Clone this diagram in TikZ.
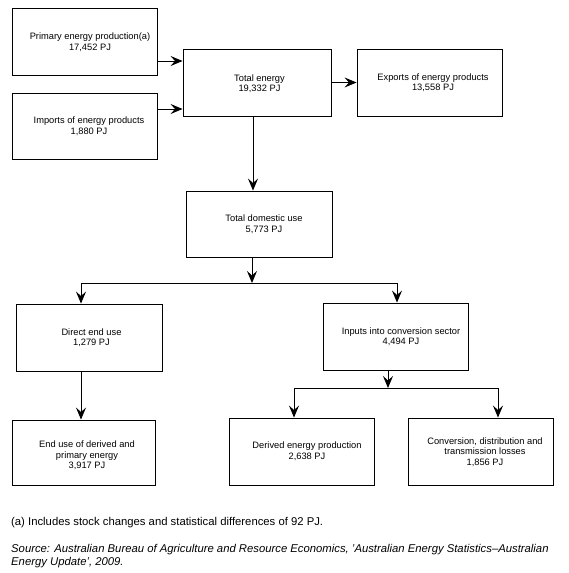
\documentclass[tikz,border=0pt]{standalone}
\usepackage{fontspec}
\setmainfont{Liberation Sans}
\usetikzlibrary{arrows.meta}
\begin{document}
\begin{tikzpicture}[x=1pt,y=-1pt,
  box/.style 2 args={draw, line width=0.9pt, minimum width=#1pt, minimum height=#2pt, inner sep=0pt},
  lbl/.style={font=\fontsize{9.3}{10.5}\selectfont, align=center, inner sep=0pt},
  conn/.style={line width=0.9pt},
  arr/.style={line width=0.9pt, -{Stealth[length=12pt, width=10pt, inset=4.5pt]}},
  note/.style={font=\fontsize{11.3}{13}\selectfont, anchor=base west, inner sep=0pt}]
\useasboundingbox (0,0) rectangle (569,573);
\fill[white] (0,0) rectangle (569,573);

% boxes
\node[box={145}{67}] (primary) at (84.5,41.5) {};
\node[box={145}{66}] (imports) at (84.5,126) {};
\node[box={148.5}{67}] (total) at (257.25,82.5) {};
\node[box={145}{67}] (exports) at (429.5,82.5) {};
\node[box={146}{66}] (domestic) at (259,224) {};
\node[box={146}{67}] (direct) at (89,337.5) {};
\node[box={143}{65}] (enduse) at (83.5,452.5) {};
\node[box={145}{67}] (inputs) at (395.5,336.5) {};
\node[box={145}{67}] (derived) at (301.5,451.5) {};
\node[box={145}{67}] (conversion) at (480.5,451.5) {};

% labels
\node[lbl] (primaryT) at (90,42) {Primary energy production(a)\\17,452 PJ};
\node[lbl] (importsT) at (89,126) {Imports of energy products\\1,880 PJ};
\node[lbl] (totalT) at (259.5,83.5) {Total energy\\19,332 PJ};
\node[lbl] (exportsT) at (433,82.5) {Exports of energy products\\13,558 PJ};
\node[lbl] (domesticT) at (264,224) {Total domestic use\\5,773 PJ};
\node[lbl] (directT) at (91.5,337.5) {Direct end use\\1,279 PJ};
\node[lbl] (enduseT) at (87,455.5) {End use of derived and\\primary energy\\3,917 PJ};
\node[lbl] (inputsT) at (401,336.5) {Inputs into conversion sector\\4,494 PJ};
\node[lbl] (derivedT) at (307,451) {Derived energy production\\2,638 PJ};
\node[lbl] (conversionT) at (485,452) {Conversion, distribution and\\transmission losses\\1,856 PJ};

% junction points
\coordinate (j1) at (252,283);
\coordinate (jl) at (81,283);
\coordinate (jr) at (397,283);
\coordinate (k1) at (388,388);
\coordinate (kl) at (294,388);
\coordinate (kr) at (498,388);

% connectors
\draw[arr] (primary.east |- 0,61) -- (total.west |- 0,61);
\draw[arr] (imports.east |- 0,109) -- (total.west |- 0,109);
\draw[arr] (total.east) -- (exports.west);
\draw[arr] (total.south -| 253,0) -- (domestic.north -| 253,0);
\draw[arr] (domestic.south -| j1) -- (j1);
\draw[conn] (jl) -- (jr);
\draw[arr] (jl) -- (direct.north -| jl);
\draw[arr] (jr) -- (inputs.north -| jr);
\draw[arr] (direct.south -| jl) -- (enduse.north -| jl);
\draw[arr] (inputs.south -| k1) -- (k1);
\draw[conn] (kl) -- (kr);
\draw[arr] (kl) -- (derived.north -| kl);
\draw[arr] (kr) -- (conversion.north -| kr);

% notes
\node[note] (fn) at (11,525) {(a) Includes stock changes and statistical differences of 92 PJ.};
\node[note, font=\fontsize{11.3}{13}\selectfont\itshape] (src1) at (11,552) {Source: Australian Bureau of Agriculture and Resource Economics, 'Australian Energy Statistics–Australian};
\node[note, font=\fontsize{11.3}{13}\selectfont\itshape] (src2) at (11,565) {Energy Update', 2009.};
\end{tikzpicture}
\end{document}
